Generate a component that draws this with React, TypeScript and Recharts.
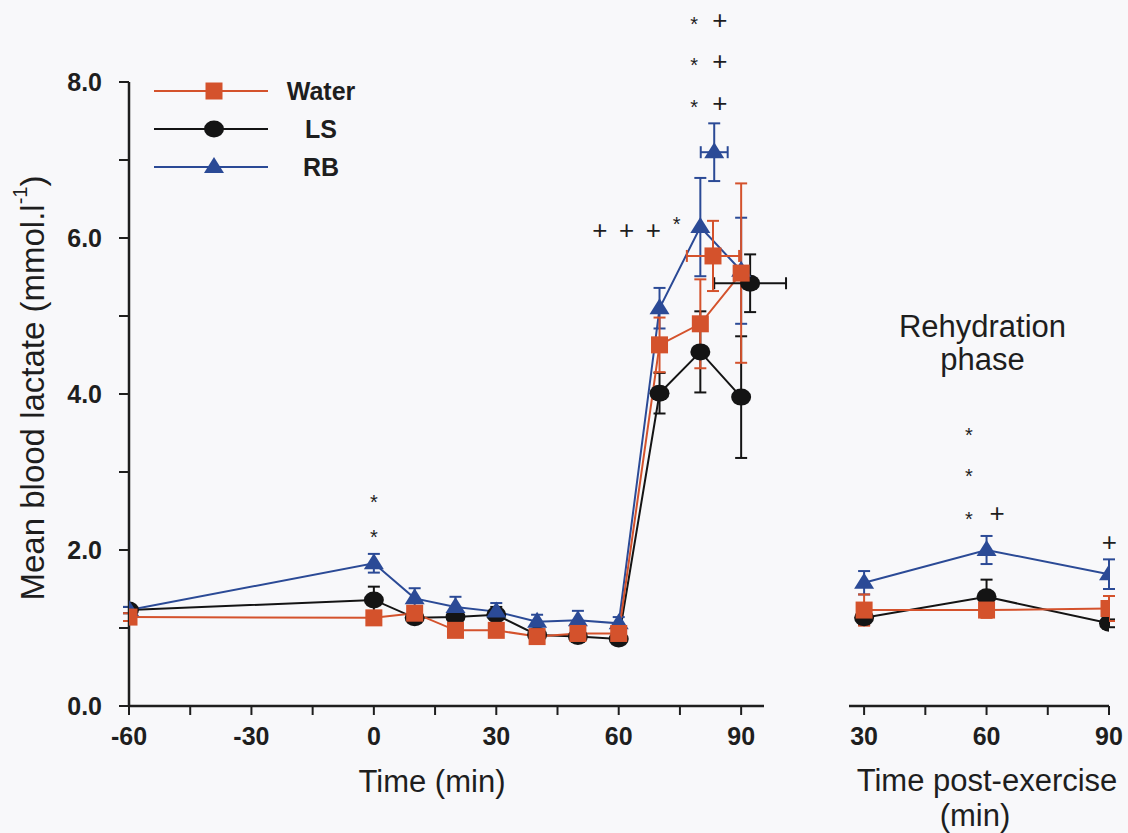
import React from 'react';
import { ComposedChart, Line, Scatter, XAxis, YAxis, ErrorBar, ReferenceDot, Legend } from 'recharts';

// sampling times during exercise (min) and post-exercise (min)
const mainTimes = [-60, 0, 10, 20, 30, 40, 50, 60, 70, 80, 90];
const postTimes = [30, 60, 90];

const waterMain = [1.14, 1.13, 1.19, 0.97, 0.97, 0.89, 0.93, 0.93, 4.63, 4.9, 5.55];
const waterMainErr = [0.05, 0.07, 0.08, 0.07, 0.07, 0.06, 0.06, 0.07, 0.35, 0.57, 1.15];
const lsMain = [1.23, 1.36, 1.13, 1.14, 1.17, 0.91, 0.89, 0.86, 4.01, 4.54, 3.96];
const lsMainErr = [0.04, 0.17, 0.06, 0.08, 0.1, 0.05, 0.05, 0.05, 0.26, 0.52, 0.78];
const rbMain = [1.23, 1.83, 1.38, 1.27, 1.21, 1.08, 1.1, 1.06, 5.1, 6.14, 5.58];
const rbMainErr = [0.04, 0.12, 0.13, 0.13, 0.11, 0.09, 0.12, 0.08, 0.26, 0.63, 0.68];

const waterPost = [1.23, 1.23, 1.25];
const waterPostErr = [0.2, 0.1, 0.16];
const lsPost = [1.13, 1.4, 1.06];
const lsPostErr = [0.09, 0.22, 0.05];
const rbPost = [1.58, 2.0, 1.69];
const rbPostErr = [0.15, 0.18, 0.19];

// end-of-exercise point: time and lactate, each with its SE
const endTime = [83.1, 92.2, 83.4];
const endTimeErr = [6.4, 8.8, 3.3];
const endLactate = [5.77, 5.42, 7.1];
const endLactateErr = [0.45, 0.37, 0.37];

const seriesNames = ['Water', 'LS', 'RB'];
const seriesColors = ['#d4522c', '#141414', '#2b4a96'];

const mainXTicks = [-60, -45, -30, -15, 0, 15, 30, 45, 60, 75, 90];
const postXTicks = [30, 45, 60, 75, 90];
const yTicks = [0, 1, 2, 3, 4, 5, 6, 7, 8];

// significance marks: [x, y, text]
const mainMarks: [number, number, string][] = [
  [0, 2.67, '*'], [0, 2.22, '*'],
  [78.5, 8.8, '*'], [84.8, 8.8, '+'],
  [78.5, 8.27, '*'], [84.8, 8.27, '+'],
  [78.5, 7.73, '*'], [84.8, 7.73, '+'],
  [55.4, 6.1, '+'], [61.9, 6.1, '+'], [68.5, 6.1, '+'], [74.2, 6.23, '*'],
];
const postMarks: [number, number, string][] = [
  [55.7, 3.53, '*'], [55.7, 3.01, '*'], [55.7, 2.46, '*'],
  [62.6, 2.47, '+'], [90.1, 2.11, '+'],
];

const FONT = '"Liberation Sans", Arial, Helvetica, sans-serif';
const AXIS = '#1e1e1e';

const mainData = mainTimes.map((t, i) => ({
  t,
  water: waterMain[i], waterErr: waterMainErr[i],
  ls: lsMain[i], lsErr: lsMainErr[i],
  rb: rbMain[i], rbErr: rbMainErr[i],
}));
const postData = postTimes.map((t, i) => ({
  t,
  water: waterPost[i], waterErr: waterPostErr[i],
  ls: lsPost[i], lsErr: lsPostErr[i],
  rb: rbPost[i], rbErr: rbPostErr[i],
}));
const endData = seriesNames.map((_, i) => [
  { t: endTime[i], lac: endLactate[i], tErr: endTimeErr[i], lacErr: endLactateErr[i] },
]);

const Marker = ({ kind, cx, cy }: { kind: number; cx: number; cy: number }) => {
  if (cx == null || cy == null) return null;
  if (kind === 0) return <rect x={cx - 8.5} y={cy - 8.5} width={17} height={17} fill={seriesColors[0]} />;
  if (kind === 1) return <ellipse cx={cx} cy={cy} rx={10} ry={8.5} fill={seriesColors[1]} />;
  return <polygon points={`${cx},${cy - 10} ${cx + 10},${cy + 6} ${cx - 10},${cy + 6}`} fill={seriesColors[2]} />;
};

const dotFor = (kind: number) => (p: any) => <Marker key={`d${kind}-${p.index}`} kind={kind} cx={p.cx} cy={p.cy} />;

const markShape = (text: string) => (p: any) => {
  const fs = text === '*' ? 20 : 26;
  const shift = text === '*' ? 0.57 : 0.35;
  return (
    <text x={p.cx} y={p.cy + fs * shift} textAnchor="middle" fontSize={fs} fontFamily={FONT} fill="#1e1e1e">
      {text}
    </text>
  );
};

const tickStyle = { fontSize: 25, fontWeight: 'bold', fill: AXIS, fontFamily: FONT };

const seriesKeys = ['water', 'ls', 'rb'];
const drawOrder = [1, 2, 0];

const renderSeries = () =>
  drawOrder.map((k) => (
    <Line
      key={seriesKeys[k]}
      type="linear"
      dataKey={seriesKeys[k]}
      stroke={seriesColors[k]}
      strokeWidth={2}
      dot={dotFor(k)}
      activeDot={false}
      isAnimationActive={false}
    >
      <ErrorBar dataKey={`${seriesKeys[k]}Err`} direction="y" width={6} strokeWidth={2} stroke={seriesColors[k]} />
    </Line>
  ));

const LegendBox = () => (
  <svg width={240} height={120}>
    {seriesNames.map((name, i) => {
      const y = 21 + i * 38;
      return (
        <g key={name}>
          <line x1={14} x2={128} y1={y} y2={y} stroke={seriesColors[i]} strokeWidth={2} />
          <Marker kind={i} cx={74} cy={y} />
          <text x={181} y={y + 9} textAnchor="middle" fontSize={25} fontWeight="bold" fontFamily={FONT} fill={AXIS}>
            {name}
          </text>
        </g>
      );
    })}
  </svg>
);

const YTitle = (props: any) => {
  const { viewBox } = props;
  const x = viewBox.x + 32;
  const y = viewBox.y + viewBox.height / 2 - 6;
  return (
    <text x={x} y={y} transform={`rotate(-90, ${x}, ${y})`} textAnchor="middle" dominantBaseline="central" fontSize={33} fontFamily={FONT} fill={AXIS}>
      Mean blood lactate (mmol.l<tspan fontSize={20} dy={-12}>-1</tspan><tspan dy={12}>)</tspan>
    </text>
  );
};

const MainXTitle = (props: any) => {
  const { viewBox } = props;
  return (
    <text x={viewBox.x + 303} y={viewBox.y + 86} textAnchor="middle" fontSize={31} fontFamily={FONT} fill={AXIS}>
      Time (min)
    </text>
  );
};

const PostXTitle = (props: any) => {
  const { viewBox } = props;
  const cx = viewBox.x + 138;
  return (
    <text textAnchor="middle" fontSize={31} fontFamily={FONT} fill={AXIS}>
      <tspan x={cx} y={viewBox.y + 85}>Time post-exercise</tspan>
      <tspan x={cx - 12} y={viewBox.y + 120}>(min)</tspan>
    </text>
  );
};

const phaseShape = (p: any) => (
  <text textAnchor="middle" fontSize={31} fontFamily={FONT} fill={AXIS}>
    <tspan x={p.cx} y={p.cy}>Rehydration</tspan>
    <tspan x={p.cx} y={p.cy + 33}>phase</tspan>
  </text>
);

const axisLine = { stroke: AXIS, strokeWidth: 2.5 };
const tickLine = { stroke: AXIS, strokeWidth: 2 };

export default function App() {
  return (
    <div style={{ position: 'absolute', left: 0, top: 0, width: 1128, height: 833, background: '#f8f8fa' }}>
      <div style={{ position: 'absolute', left: 0, top: 0 }}>
        <ComposedChart width={800} height={833} data={mainData} margin={{ top: 82, right: 36, bottom: 87, left: 0 }}>
          <XAxis
            dataKey="t"
            type="number"
            domain={[-60, 95.6]}
            allowDataOverflow
            ticks={mainXTicks}
            tickFormatter={(v: number) => (v % 30 === 0 ? String(v) : '')}
            interval={0}
            height={40}
            tickSize={9}
            tickMargin={12}
            axisLine={axisLine}
            tickLine={tickLine}
            tick={tickStyle}
            label={<MainXTitle />}
          />
          <YAxis
            type="number"
            domain={[0, 8]}
            ticks={yTicks}
            interval={0}
            tickFormatter={(v: number) => (v % 2 === 0 ? v.toFixed(1) : '')}
            width={129}
            tickSize={10}
            tickMargin={17}
            axisLine={axisLine}
            tickLine={tickLine}
            tick={tickStyle}
            label={<YTitle />}
          />
          <Legend
            layout="vertical"
            align="center"
            verticalAlign="middle"
            wrapperStyle={{ left: 140, top: 70, width: 240, height: 120 }}
            content={() => <LegendBox />}
          />
          {renderSeries()}
          {drawOrder.map((k) => (
            <Scatter
              key={`end-${k}`}
              data={endData[k]}
              dataKey="lac"
              isAnimationActive={false}
              shape={(p: any) => <Marker kind={k} cx={p.cx} cy={p.cy} />}
            >
              <ErrorBar dataKey="tErr" direction="x" width={6} strokeWidth={2} stroke={seriesColors[k]} />
              <ErrorBar dataKey="lacErr" direction="y" width={6} strokeWidth={2} stroke={seriesColors[k]} />
            </Scatter>
          ))}
          {mainMarks.map(([x, y, s], i) => (
            <ReferenceDot key={`m${i}`} x={x} y={y} r={0} ifOverflow="visible" shape={markShape(s)} />
          ))}
        </ComposedChart>
      </div>
      <div style={{ position: 'absolute', left: 820, top: 0 }}>
        <ComposedChart width={308} height={833} data={postData} margin={{ top: 82, right: 19, bottom: 87, left: 29 }}>
          <XAxis
            dataKey="t"
            type="number"
            domain={[26.3, 90]}
            allowDataOverflow
            ticks={postXTicks}
            tickFormatter={(v: number) => (v % 30 === 0 ? String(v) : '')}
            interval={0}
            height={40}
            tickSize={9}
            tickMargin={12}
            axisLine={axisLine}
            tickLine={tickLine}
            tick={tickStyle}
            label={<PostXTitle />}
          />
          <YAxis type="number" domain={[0, 8]} hide />
          {renderSeries()}
          {postMarks.map(([x, y, s], i) => (
            <ReferenceDot key={`p${i}`} x={x} y={y} r={0} ifOverflow="visible" shape={markShape(s)} />
          ))}
          <ReferenceDot x={59} y={4.73} r={0} ifOverflow="visible" shape={phaseShape} />
        </ComposedChart>
      </div>
    </div>
  );
}
